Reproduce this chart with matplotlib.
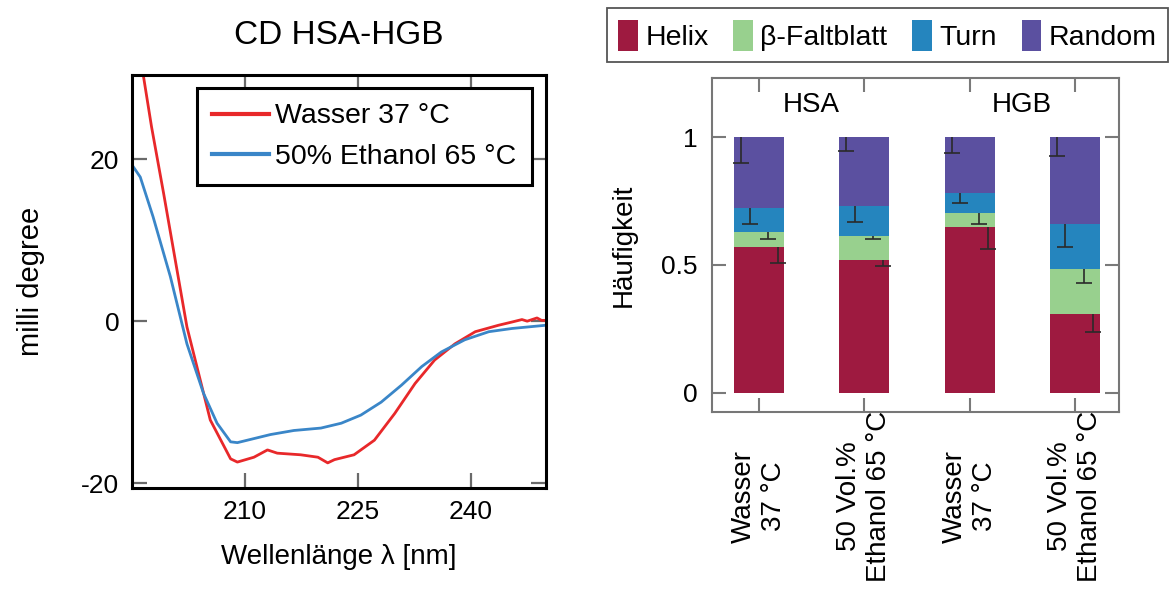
import matplotlib
matplotlib.use("Agg")
import matplotlib.pyplot as plt
import numpy as np

plt.rcParams['font.family'] = ['Liberation Sans', 'DejaVu Sans']
plt.rcParams['axes.unicode_minus'] = False

# --- CD spectra ---
wl_wasser = [195.5, 196.5, 197.6, 199.2, 202.3, 205.4, 208.1, 209.0, 211.2, 213.0,
             214.3, 217.4, 219.7, 221.0, 221.9, 224.5, 227.2, 229.9, 232.6, 235.2,
             237.9, 240.6, 243.7, 245.5, 246.8, 247.5, 248.8, 249.4, 250.0]
cd_wasser = [36.0, 30.4, 24.0, 15.8, -0.7, -12.2, -17.0, -17.4, -16.8, -15.9,
             -16.3, -16.5, -16.8, -17.5, -17.1, -16.5, -14.7, -11.4, -7.7, -4.8,
             -2.8, -1.3, -0.5, -0.1, 0.2, 0.0, 0.4, 0.1, 0.1]

wl_ethanol = [195.0, 196.1, 197.8, 200.1, 202.3, 204.5, 206.3, 208.1, 209.0, 211.2,
              213.4, 216.5, 220.1, 222.8, 225.4, 228.1, 230.8, 233.5, 236.1, 239.2,
              242.4, 245.5, 250.0]
cd_ethanol = [19.3, 17.8, 12.9, 5.5, -2.8, -8.9, -12.6, -14.9, -15.0, -14.5,
              -14.0, -13.5, -13.2, -12.6, -11.6, -10.0, -7.9, -5.6, -3.8, -2.3,
              -1.3, -0.9, -0.5]

# --- secondary structure fractions ---
conditions = ['Wasser\n37 °C', '50 Vol.%\nEthanol 65 °C',
              'Wasser\n37 °C', '50 Vol.%\nEthanol 65 °C']
groups = ['HSA', 'HGB']
helix = [0.568, 0.517, 0.648, 0.307]
faltblatt = [0.059, 0.094, 0.055, 0.176]
turn = [0.097, 0.118, 0.080, 0.177]
random_coil = [0.276, 0.271, 0.217, 0.340]
err_helix = [0.0625, 0.022, 0.085, 0.072]
err_faltblatt = [0.026, 0.010, 0.042, 0.056]
err_turn = [0.0625, 0.061, 0.043, 0.090]
err_random = [0.100, 0.055, 0.0625, 0.075]

fig = plt.figure(figsize=(11.71, 5.92), dpi=100)

# ---------------- left panel ----------------
ax1 = fig.add_axes([0.1127, 0.1757, 0.3536, 0.6976])
ax1.plot(wl_wasser, cd_wasser, color='#e8282a', lw=2.0, label='Wasser 37 °C')
ax1.plot(wl_ethanol, cd_ethanol, color='#3a86c8', lw=2.0, label='50% Ethanol 65 °C')
ax1.set_xlim(195, 250)
ax1.set_ylim(-20.6, 30.4)
ax1.set_xticks([210, 225, 240])
ax1.set_yticks([-20, 0, 20])
ax1.tick_params(direction='in', top=True, right=True, length=11, width=1.6,
                color='#6a6a6a', labelsize=19, pad=9)
for s in ax1.spines.values():
    s.set_linewidth(2.2)
    s.set_color('black')
ax1.set_xlabel('Wellenlänge λ [nm]', fontsize=20, labelpad=14)
ax1.set_ylabel('milli degree', fontsize=21, labelpad=26)
ax1.set_title('CD HSA-HGB', fontsize=24, pad=22)
leg1 = ax1.legend(loc='upper right', bbox_to_anchor=(0.966, 0.969), borderaxespad=0,
                  fontsize=20.5, handlelength=2.0, handletextpad=0.2, labelspacing=0.5,
                  borderpad=0.55, fancybox=False, framealpha=1)
leg1.get_frame().set_edgecolor('black')
leg1.get_frame().set_linewidth(2.2)
for line in leg1.get_lines():
    line.set_linewidth(3)

# ---------------- right panel ----------------
ax2 = fig.add_axes([0.6078, 0.3046, 0.3478, 0.5631])
x = np.arange(len(conditions))
w = 0.475
b1 = np.array(helix)
b2 = b1 + np.array(faltblatt)
b3 = b2 + np.array(turn)
h1 = ax2.bar(x, helix, w, color='#9e1a40', label='Helix')
h2 = ax2.bar(x, faltblatt, w, bottom=b1, color='#98d08e', label='β-Faltblatt')
h3 = ax2.bar(x, turn, w, bottom=b2, color='#2585be', label='Turn')
h4 = ax2.bar(x, random_coil, w, bottom=b3, color='#5b50a0', label='Random')

tops = [b1, b2, b3, b3 + np.array(random_coil)]
errs = [err_helix, err_faltblatt, err_turn, err_random]
offsets = [0.175, 0.085, -0.09, -0.17]
for top, err, off in zip(tops, errs, offsets):
    err = np.array(err)
    ax2.errorbar(x + off, top, yerr=[err, np.zeros_like(err)], fmt='none',
                 ecolor='#2a2a2a', elinewidth=1.2, capsize=0)
    ax2.plot(x + off, top - err, ls='none', marker='_', ms=12, mew=1.2, color='#2a2a2a')

ax2.set_xlim(-0.45, 3.42)
ax2.set_ylim(-0.075, 1.23)
ax2.set_yticks([0, 0.5, 1])
ax2.set_yticklabels(['0', '0.5', '1'])
ax2.set_xticks(x)
ax2.set_xticklabels(conditions, rotation=90, va='center', ha='center',
                    multialignment='center')
ax2.tick_params(direction='in', top=True, right=True, length=10, width=1.5,
                color='#7a7a7a', labelsize=19)
ax2.tick_params(axis='y', pad=10)
ax2.tick_params(axis='x', labelsize=20, pad=61)
for s in ax2.spines.values():
    s.set_linewidth(1.5)
    s.set_color('#777777')
ax2.set_ylabel('Häufigkeit', fontsize=20, labelpad=18)
for gi, g in enumerate(groups):
    ax2.text(2 * gi + 0.5, 1.127, g, fontsize=20, ha='center', va='center')

leg2 = fig.legend(handles=[h1, h2, h3, h4], loc='lower left',
                  bbox_to_anchor=(607 / 1171, 1 - 62 / 592, 561 / 1171, 57 / 592),
                  mode='expand', ncol=4, fontsize=20.5, handlelength=0.7, handleheight=1.3,
                  handletextpad=0.25, columnspacing=0.8, borderaxespad=0,
                  fancybox=False, framealpha=1)
leg2.get_frame().set_edgecolor('#555555')
leg2.get_frame().set_linewidth(1.3)

fig.savefig('out.png', dpi=100)
